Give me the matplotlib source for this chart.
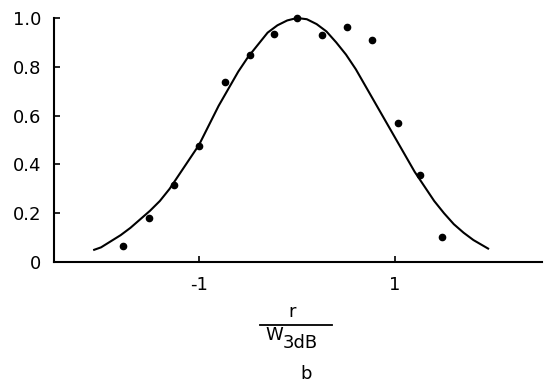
import numpy as np
import matplotlib
matplotlib.use("Agg")
import matplotlib.pyplot as plt
from matplotlib.lines import Line2D

plt.rcParams["axes.unicode_minus"] = False

# Measured points (r / W3dB, normalised response)
r_meas = [-1.78, -1.51, -1.26, -1.00, -0.74, -0.48, -0.23, 0.00,
          0.26, 0.51, 0.77, 1.03, 1.25, 1.48]
v_meas = [0.065, 0.181, 0.317, 0.474, 0.739, 0.848, 0.935, 1.00,
          0.93, 0.963, 0.909, 0.568, 0.356, 0.102]

# Theory curve
r_curve = [-2.07, -2.0, -1.9, -1.8, -1.7, -1.6, -1.5, -1.4, -1.3, -1.2,
           -1.1, -1.0, -0.9, -0.8, -0.7, -0.6, -0.5, -0.4, -0.3, -0.2,
           -0.1, 0.0, 0.1, 0.2, 0.3, 0.4, 0.5, 0.6, 0.7, 0.8,
           0.9, 1.0, 1.1, 1.2, 1.3, 1.4, 1.5, 1.6, 1.7, 1.8, 1.95]
v_curve = [0.05, 0.06, 0.085, 0.11, 0.14, 0.175, 0.21, 0.25, 0.30, 0.36,
           0.42, 0.48, 0.56, 0.64, 0.71, 0.78, 0.84, 0.89, 0.94, 0.97,
           0.99, 1.00, 0.995, 0.975, 0.945, 0.90, 0.85, 0.79, 0.72, 0.65,
           0.58, 0.51, 0.44, 0.37, 0.31, 0.25, 0.20, 0.155, 0.12, 0.09, 0.055]

x_ticks = [-1, 1]
x_labels = ["-1", "1"]
y_ticks = [0, 0.2, 0.4, 0.6, 0.8, 1.0]
y_labels = ["0", "0.2", "0.4", "0.6", "0.8", "1.0"]

W, H = 548, 388
fig = plt.figure(figsize=(W / 100, H / 100), dpi=100)
ax = fig.add_axes([54 / W, 1 - 262 / H, (542 - 54) / W, (262 - 18) / H])

ax.plot(r_curve, v_curve, color="black", lw=1.5, clip_on=False)
ax.plot(r_meas, v_meas, "o", color="black", ms=4.5, clip_on=False)

ax.set_xlim(-2.48, 2.5)
ax.set_ylim(0, 1.0)
ax.set_xticks(x_ticks)
ax.set_xticklabels(x_labels)
ax.set_yticks(y_ticks)
ax.set_yticklabels(y_labels)

for s in ["top", "right"]:
    ax.spines[s].set_visible(False)
for s in ["left", "bottom"]:
    ax.spines[s].set_linewidth(1.5)

ax.tick_params(axis="both", direction="in", length=4, width=1.2, labelsize=13)
ax.tick_params(axis="y", pad=9)
ax.tick_params(axis="x", pad=10)

# axis label as a fraction r / W3dB
fig.text(292 / W, 1 - 317 / H, "r", ha="center", va="baseline", fontsize=13)
fig.add_artist(Line2D([260 / W, 332 / W], [1 - 324.5 / H, 1 - 324.5 / H],
                      color="black", lw=1.3))
fig.text(265 / W, 1 - 340 / H, "W", ha="left", va="baseline", fontsize=13)
fig.text(283 / W, 1 - 348 / H, "3dB", ha="left", va="baseline", fontsize=13)
fig.text(306 / W, 1 - 379 / H, "b", ha="center", va="baseline", fontsize=13)

plt.savefig("out.png", dpi=100)
